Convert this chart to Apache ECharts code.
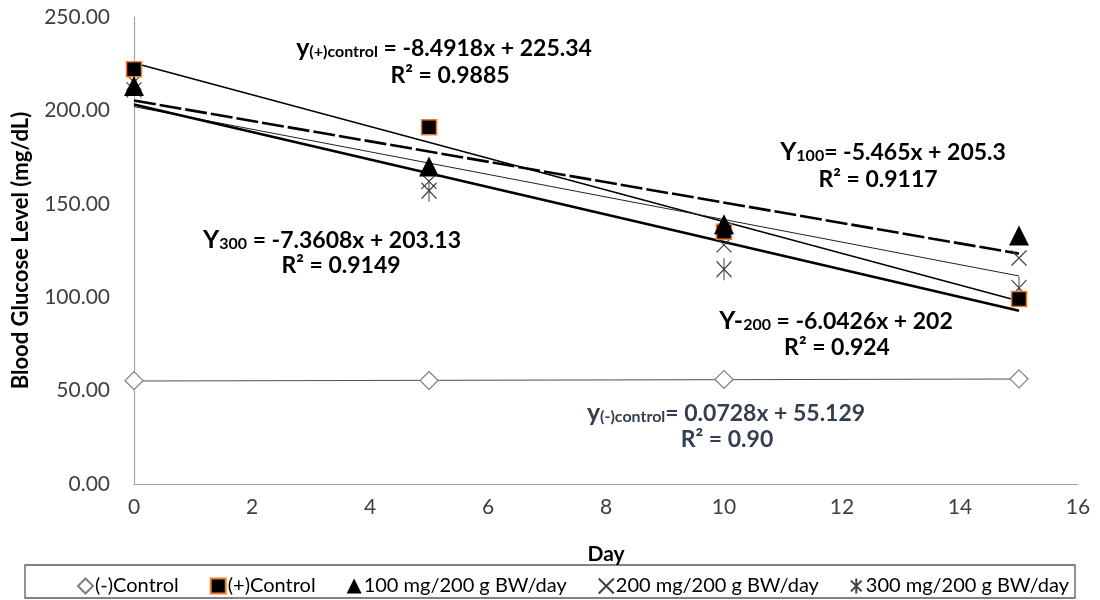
<!DOCTYPE html>
<html>
<head>
<meta charset="utf-8">
<script src="https://cdn.jsdelivr.net/npm/echarts@6/dist/echarts.min.js"></script>
<style>html,body{margin:0;padding:0;background:#fff}#c{width:1100px;height:600px}</style>
</head>
<body>
<div id="c"></div>
<script>
// ---- data ----
const days = [0, 5, 10, 15];
const seriesNames = ['(-)Control', '(+)Control', '100 mg/200 g BW/day', '200 mg/200 g BW/day', '300 mg/200 g BW/day'];
const negControl = [55.3, 55.4, 56.0, 56.3];
const posControl = [222, 191, 135, 99];
const dose100 = [213, 170, 139, 133];
const dose200 = [211, 162, 128, 121];
const dose300 = [215, 157, 115, 105];
// trendline coefficients (slope, intercept) as printed on chart
const trendSlopes = [0.0728, -8.4918, -5.465, -6.0426, -7.3608];
const trendIntercepts = [55.129, 225.34, 205.3, 202, 203.13];
const trendRange = [0, 15];
const yTicks = [0, 50, 100, 150, 200, 250];

const F = 'Lato, "Open Sans", sans-serif';
const xMark = 'path://M0,0L10,10M10,0L0,10';
const starMark = 'path://M5,0L5,14M0,2L10,12M10,2L0,12';

function pts(vals) { return days.map((d, i) => [d, vals[i]]); }
function trend(i) { return trendRange.map(x => [x, trendSlopes[i] * x + trendIntercepts[i]]); }

const trendStyles = [
  { color: '#44546A', width: 1.2, type: 'solid' },
  { color: '#000', width: 1.5, type: 'solid' },
  { color: '#000', width: 2.6, type: [22, 4] },
  { color: '#222', width: 1, type: 'solid' },
  { color: '#000', width: 2.6, type: 'solid' }
];

const series = [];
trendStyles.forEach((s, i) => {
  series.push({
    name: 'trend' + i, type: 'line', data: trend(i), symbol: 'none', silent: true,
    lineStyle: s, z: 1
  });
});
series.push(
  { name: seriesNames[0], type: 'scatter', data: pts(negControl), symbol: 'diamond', symbolSize: 18,
    itemStyle: { color: '#fff', borderColor: '#7f7f7f', borderWidth: 1.2, opacity: 1 }, z: 3 },
  { name: seriesNames[1], type: 'scatter', data: pts(posControl), symbol: 'rect', symbolSize: 15,
    itemStyle: { color: '#000', borderColor: '#ED7D31', borderWidth: 1.5, opacity: 1 }, z: 4 },
  { name: seriesNames[2], type: 'scatter', data: pts(dose100), symbol: 'triangle', symbolSize: 20,
    itemStyle: { color: '#000', opacity: 1 }, z: 5 },
  { name: seriesNames[3], type: 'scatter', data: pts(dose200), symbol: xMark, symbolSize: 15,
    itemStyle: { color: 'rgba(0,0,0,0)', borderColor: '#404040', borderWidth: 1.2, opacity: 1 }, z: 3 },
  { name: seriesNames[4], type: 'scatter', data: pts(dose300), symbol: starMark, symbolSize: [15, 22],
    itemStyle: { color: 'rgba(0,0,0,0)', borderColor: '#404040', borderWidth: 1.2, opacity: 1 }, z: 3 }
);

function eq(x, y, main, sub, rest, color) {
  return {
    type: 'text', z: 10,
    style: {
      x: x, y: y, align: 'center', verticalAlign: 'middle',
      text: '{m|' + main + '}{s|' + sub + '}{r|' + rest + '}',
      rich: {
        m: { fontFamily: F, fontWeight: 'bold', fontSize: 25, fill: color, color: color, lineHeight: 28, verticalAlign: 'bottom' },
        s: { fontFamily: F, fontWeight: 'bold', fontSize: 16, fill: color, color: color, lineHeight: 28, verticalAlign: 'bottom', padding: [7, 0, 0, 0] },
        r: { fontFamily: F, fontWeight: 'bold', fontSize: 23, fill: color, color: color, lineHeight: 28, verticalAlign: 'bottom' }
      }
    }
  };
}
function r2(x, y, txt, color) {
  return {
    type: 'text', z: 10,
    style: { x: x, y: y, align: 'center', verticalAlign: 'middle', text: txt,
      font: 'bold 23px ' + F, fill: color }
  };
}

const chart = echarts.init(document.getElementById('c'));
chart.setOption({
  animation: false,
  grid: { left: 134, right: 22, top: 17, bottom: 116 },
  xAxis: {
    type: 'value', min: 0, max: 16, interval: 2,
    name: 'Day', nameLocation: 'middle', nameGap: 60,
    nameTextStyle: { fontFamily: F, fontWeight: 'bold', fontSize: 21, color: '#000' },
    axisLine: { lineStyle: { color: '#A6A6A6', width: 1.2 } },
    axisTick: { show: false },
    splitLine: { show: false },
    axisLabel: { fontFamily: F, fontSize: 21, color: '#404040', margin: 13 }
  },
  yAxis: {
    type: 'value', min: yTicks[0], max: yTicks[yTicks.length - 1], interval: 50,
    name: 'Blood Glucose Level (mg/dL)', nameLocation: 'middle', nameGap: 102, nameRotate: 90,
    nameTextStyle: { fontFamily: F, fontWeight: 'bold', fontSize: 22, color: '#000' },
    axisLine: { show: true, lineStyle: { color: '#A6A6A6', width: 1.2 } },
    axisTick: { show: false },
    splitLine: { show: false },
    axisLabel: { fontFamily: F, fontSize: 21, color: '#404040', margin: 24, formatter: v => v.toFixed(2) }
  },
  legend: {
    data: seriesNames, left: 72, top: 571, itemGap: 31, itemWidth: 15, itemHeight: 15,
    textStyle: { fontFamily: F, fontSize: 20, color: '#000', padding: [0, 0, 0, -3] },
    selectedMode: false
  },
  graphic: [
    { type: 'rect', shape: { x: 25, y: 565, width: 1050, height: 33 },
      style: { fill: '#fff', stroke: '#595959', lineWidth: 1.3 }, z: 0 },
    eq(444, 46, 'y', '(+)control', ' = -8.4918x + 225.34', '#000'),
    r2(450, 76, 'R² = 0.9885', '#000'),
    eq(893, 150, 'Y', '100', '= -5.465x + 205.3', '#000'),
    r2(878, 180, 'R² = 0.9117', '#000'),
    eq(332, 238, 'Y', '300', ' = -7.3608x + 203.13', '#000'),
    r2(341, 266, 'R² = 0.9149', '#000'),
    eq(836, 319, 'Y-', '200', ' = -6.0426x + 202', '#000'),
    r2(837, 348, 'R² = 0.924', '#000'),
    eq(726, 411, 'y', '(-)control', '= 0.0728x + 55.129', '#333F50'),
    r2(727, 440, 'R² = 0.90', '#333F50')
  ],
  series: series
});
</script>
</body>
</html>
